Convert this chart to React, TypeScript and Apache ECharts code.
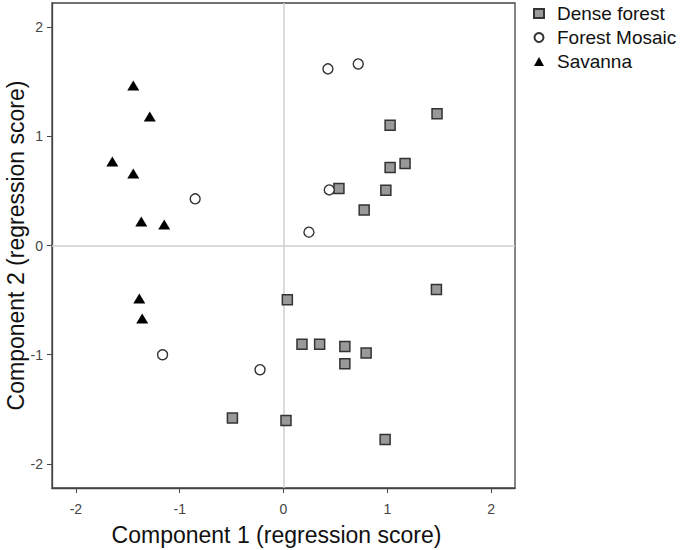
import React, { useEffect, useRef } from "react";
import * as echarts from "echarts";

const seriesNames = ["Dense forest", "Forest Mosaic", "Savanna"];

const denseForest: [number, number][] = [
  [1.479, 1.205], [1.027, 1.101], [1.171, 0.75], [1.027, 0.714], [0.534, 0.522],
  [0.986, 0.506], [0.777, 0.326], [1.473, -0.403], [0.037, -0.497], [0.178, -0.903],
  [0.348, -0.903], [0.591, -0.924], [0.796, -0.985], [0.591, -1.083], [0.024, -1.601],
  [0.979, -1.775], [-0.492, -1.58],
];

const forestMosaic: [number, number][] = [
  [-0.851, 0.427], [0.428, 1.617], [0.72, 1.662], [0.441, 0.509], [0.245, 0.122],
  [-1.165, -1.0], [-0.226, -1.137],
];

const savanna: [number, number][] = [
  [-1.447, 1.464], [-1.288, 1.18], [-1.649, 0.768], [-1.447, 0.659], [-1.37, 0.22],
  [-1.149, 0.192], [-1.389, -0.485], [-1.361, -0.668],
];

const xTicks = [-2, -1, 0, 1, 2];
const yTicks = [-2, -1, 0, 1, 2];

const FONT = "Liberation Sans, Arial, sans-serif";

export default function App() {
  const ref = useRef<HTMLDivElement>(null);
  useEffect(() => {
    if (!ref.current) return;
    const chart = echarts.init(ref.current, undefined, { renderer: "svg" });
    chart.setOption({
      animation: false,
      backgroundColor: "#ffffff",
      textStyle: { fontFamily: FONT },
      grid: {
        left: 52, top: 3, width: 463, height: 485,
        outerBoundsMode: "none",
        containLabel: false,
        show: true, borderColor: "#444", borderWidth: 1.3, backgroundColor: "transparent",
      },
      legend: {
        orient: "vertical",
        left: 533,
        top: 4,
        padding: 0,
        itemWidth: 10,
        itemHeight: 9,
        itemGap: 5,
        symbolKeepAspect: true,
        textStyle: { fontSize: 19, color: "#111", fontFamily: FONT, padding: [0, 0, 0, 8] },
        data: seriesNames,
      },
      xAxis: {
        type: "value",
        min: -2.23,
        max: 2.23,
        name: "Component 1 (regression score)",
        nameLocation: "middle",
        nameGap: 35,
        nameMoveOverlap: false,
        nameTextStyle: { fontSize: 23, color: "#111", fontFamily: FONT, padding: [0, 14, 0, 0] },
        axisLine: { show: true, onZero: false, lineStyle: { color: "#444", width: 1.3 } },
        axisTick: { show: true, length: 5, inside: false, customValues: xTicks, lineStyle: { color: "#444" } },
        axisLabel: { customValues: xTicks, fontSize: 14, color: "#444", margin: 14, fontFamily: FONT },
        splitLine: { show: false },
      },
      yAxis: {
        type: "value",
        min: -2.22,
        max: 2.22,
        name: "Component 2 (regression score)",
        nameLocation: "middle",
        nameGap: 25,
        nameMoveOverlap: false,
        nameTextStyle: { fontSize: 23, color: "#111", fontFamily: FONT },
        axisLine: { show: true, onZero: false, lineStyle: { color: "#444", width: 1.3 } },
        axisTick: { show: true, length: 5, inside: false, customValues: yTicks, lineStyle: { color: "#444" } },
        axisLabel: { customValues: yTicks, fontSize: 14, color: "#444", margin: 9, fontFamily: FONT },
        splitLine: { show: false },
      },
      series: [
        {
          name: seriesNames[0],
          type: "scatter",
          symbol: "rect",
          symbolSize: 10,
          itemStyle: { color: "#999999", borderColor: "#333", borderWidth: 1.5, opacity: 1 },
          data: denseForest,
          z: 3,
          markLine: {
            silent: true,
            symbol: "none",
            label: { show: false },
            lineStyle: { color: "#cfcfcf", width: 1.5, type: "solid" },
            data: [{ xAxis: 0 }, { yAxis: 0 }],
            z: 1,
          },
        },
        {
          name: seriesNames[1],
          type: "scatter",
          symbol: "circle",
          symbolSize: 10,
          itemStyle: { color: "#ffffff", borderColor: "#333", borderWidth: 1.4, opacity: 1 },
          data: forestMosaic,
          z: 3,
        },
        {
          name: seriesNames[2],
          type: "scatter",
          symbol: "triangle",
          symbolSize: [12, 10],
          itemStyle: { color: "#000000", opacity: 1 },
          data: savanna,
          z: 3,
        },
      ],
    });
    return () => chart.dispose();
  }, []);
  return (
    <div
      ref={ref}
      style={{ position: "absolute", left: 0, top: 0, width: 685, height: 550 }}
    />
  );
}
